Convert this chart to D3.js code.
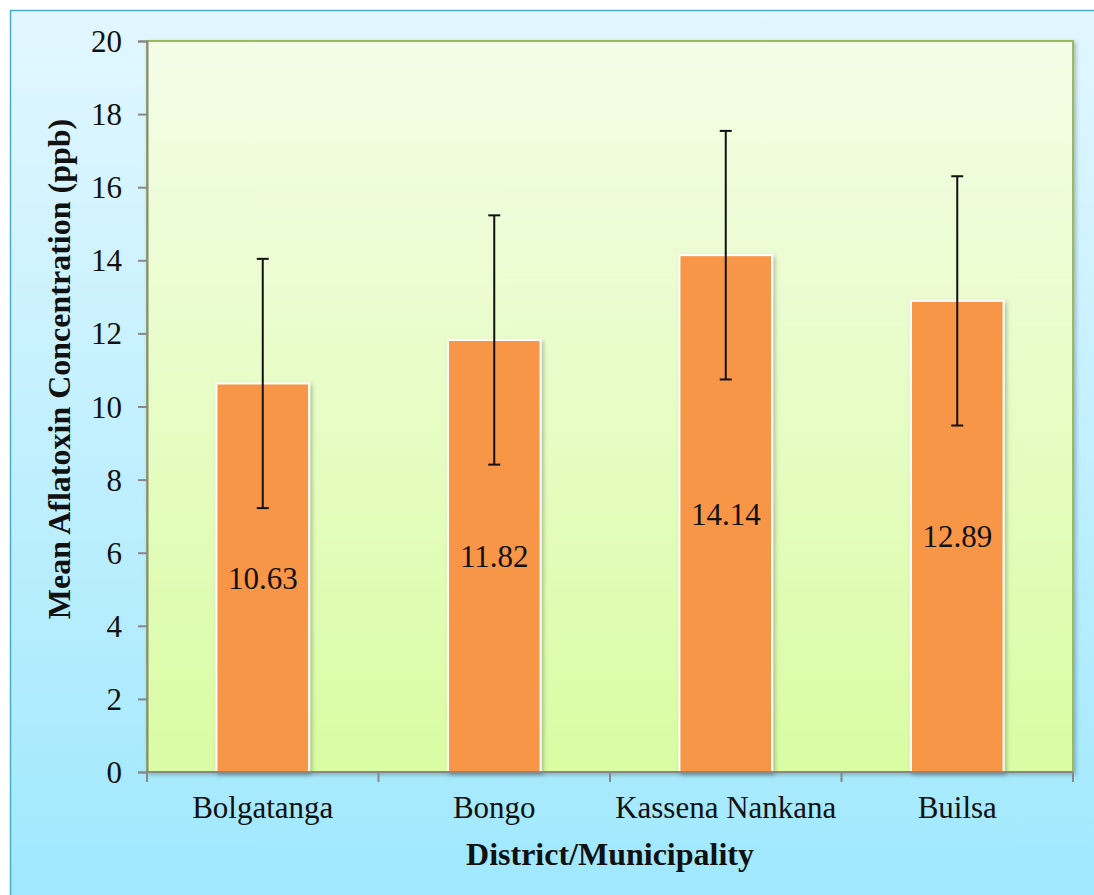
<!DOCTYPE html>
<html>
<head>
<meta charset="utf-8">
<script src="https://cdn.jsdelivr.net/npm/d3@7/dist/d3.min.js"></script>
<style>
  body { margin: 0; background: #fff; }
  svg { display: block; }
  svg text { font-family: "Liberation Serif", "Times New Roman", Times, serif; fill: #111; }
</style>
</head>
<body>
<div id="chart"></div>
<script>
// data
const districts = ["Bolgatanga", "Bongo", "Kassena Nankana", "Builsa"];
const meanValues = [10.63, 11.82, 14.14, 12.89];
const errValues = [3.41, 3.41, 3.40, 3.41];
const yTicks = [0, 2, 4, 6, 8, 10, 12, 14, 16, 18, 20];

const width = 1094, height = 895;
const margin = { top: 41, right: 21, bottom: 123, left: 147 };
const innerWidth = width - margin.left - margin.right;
const innerHeight = height - margin.top - margin.bottom;

const svg = d3.select("#chart").append("svg")
  .attr("width", width)
  .attr("height", height);

const defs = svg.append("defs");
const outerGrad = defs.append("linearGradient").attr("id", "outerGrad")
  .attr("x1", 0).attr("y1", 0).attr("x2", 0).attr("y2", 1);
outerGrad.append("stop").attr("offset", "0%").attr("stop-color", "#e2f7ff");
outerGrad.append("stop").attr("offset", "100%").attr("stop-color", "#9fe8fd");

const plotGrad = defs.append("linearGradient").attr("id", "plotGrad")
  .attr("x1", 0).attr("y1", 0).attr("x2", 0).attr("y2", 1);
plotGrad.append("stop").attr("offset", "0%").attr("stop-color", "#f3fde7");
plotGrad.append("stop").attr("offset", "100%").attr("stop-color", "#dafca3");

const shadow = defs.append("filter").attr("id", "shadow")
  .attr("x", "-10%").attr("y", "-10%").attr("width", "120%").attr("height", "120%");
shadow.append("feDropShadow").attr("dx", 2).attr("dy", 2).attr("stdDeviation", 2)
  .attr("flood-color", "#000").attr("flood-opacity", 0.25);

// outer chart area (runs off the right/bottom edge like the original)
svg.append("rect")
  .attr("x", 10.5).attr("y", 10.5)
  .attr("width", width).attr("height", height)
  .attr("fill", "url(#outerGrad)")
  .attr("stroke", "#4bacc6")
  .attr("stroke-width", 1.5);

const chart = svg.append("g").attr("transform", `translate(${margin.left},${margin.top})`);

// plot area
chart.append("rect")
  .attr("width", innerWidth).attr("height", innerHeight)
  .attr("fill", "url(#plotGrad)")
  .attr("stroke", "#9bbb59")
  .attr("stroke-width", 2)
  .attr("filter", "url(#shadow)");

const x = d3.scaleBand().domain(districts).range([0, innerWidth]).paddingInner(0).paddingOuter(0);
const barW = x.bandwidth() * 0.4;
const y = d3.scaleLinear().domain([0, 20]).range([innerHeight, 0]);

// bars
const bars = chart.selectAll(".bar")
  .data(districts.map((d, i) => ({ name: d, value: meanValues[i], err: errValues[i] })))
  .join("g")
    .attr("class", "bar")
    .attr("transform", d => `translate(${x(d.name) + x.bandwidth() / 2},0)`);

bars.append("rect")
  .attr("x", -barW / 2)
  .attr("y", d => y(d.value))
  .attr("width", barW)
  .attr("height", d => innerHeight - y(d.value))
  .attr("fill", "#f79646")
  .attr("stroke", "#fff")
  .attr("stroke-width", 2)
  .attr("filter", "url(#shadow)");

// value labels in middle of bar
bars.append("text")
  .attr("y", d => (y(d.value) + innerHeight) / 2 + 11)
  .attr("text-anchor", "middle")
  .style("font-size", "31px")
  .text(d => d.value.toFixed(2));

// error bars
bars.append("line")
  .attr("y1", d => y(d.value + d.err))
  .attr("y2", d => y(d.value - d.err))
  .attr("stroke", "#111").attr("stroke-width", 2);
bars.append("line")
  .attr("x1", -6).attr("x2", 6)
  .attr("y1", d => y(d.value + d.err)).attr("y2", d => y(d.value + d.err))
  .attr("stroke", "#111").attr("stroke-width", 2);
bars.append("line")
  .attr("x1", -6).attr("x2", 6)
  .attr("y1", d => y(d.value - d.err)).attr("y2", d => y(d.value - d.err))
  .attr("stroke", "#111").attr("stroke-width", 2);

// y axis
const yAxis = chart.append("g")
  .call(d3.axisLeft(y).tickValues(yTicks).tickSize(9).tickPadding(16));
yAxis.select(".domain").attr("stroke", "#888").attr("stroke-width", 2);
yAxis.selectAll(".tick line").attr("stroke", "#888").attr("stroke-width", 2);
yAxis.selectAll(".tick text")
  .style("font-size", "31px")
  .attr("dy", "0.34em");

// x axis: ticks at category boundaries
const xAxisG = chart.append("g").attr("transform", `translate(0,${innerHeight})`);
xAxisG.append("line")
  .attr("x1", 0).attr("x2", innerWidth)
  .attr("stroke", "#888").attr("stroke-width", 2);
const boundaries = districts.map(d => x(d)).concat([innerWidth]);
xAxisG.selectAll(".bt")
  .data(boundaries)
  .join("line")
    .attr("class", "bt")
    .attr("x1", d => d).attr("x2", d => d)
    .attr("y1", 0).attr("y2", 10)
    .attr("stroke", "#888").attr("stroke-width", 2);
xAxisG.selectAll(".cat")
  .data(districts)
  .join("text")
    .attr("class", "cat")
    .attr("x", d => x(d) + x.bandwidth() / 2)
    .attr("y", 46)
    .attr("text-anchor", "middle")
    .style("font-size", "31px")
    .text(d => d);

// axis titles
svg.append("text")
  .attr("x", margin.left + innerWidth / 2)
  .attr("y", 865)
  .attr("text-anchor", "middle")
  .style("font-size", "32px")
  .style("font-weight", 700)
  .text("District/Municipality");

svg.append("text")
  .attr("transform", "translate(70, 369) rotate(-90)")
  .attr("text-anchor", "middle")
  .style("font-size", "32px")
  .style("font-weight", 700)
  .text("Mean Aflatoxin Concentration (ppb)");
</script>
</body>
</html>
